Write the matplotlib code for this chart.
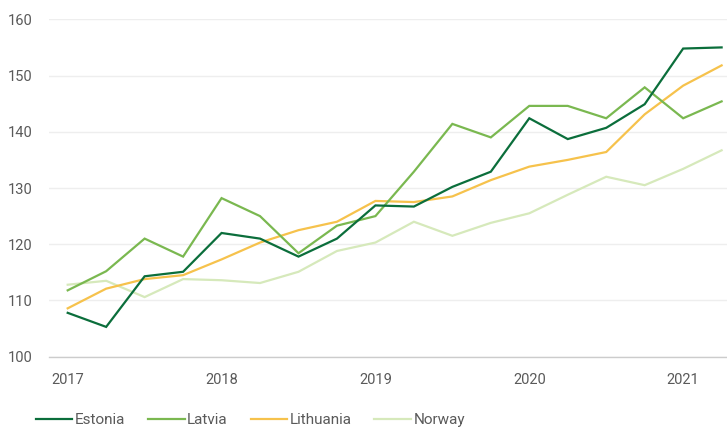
import matplotlib
matplotlib.use("Agg")
import matplotlib.pyplot as plt

quarters = list(range(18))
year_ticks = [0, 4, 8, 12, 16]
year_labels = ["2017", "2018", "2019", "2020", "2021"]

estonia = [107.8, 105.3, 114.3, 115.1, 122.0, 121.0, 117.8, 121.0, 126.9, 126.7,
           130.2, 132.9, 142.4, 138.7, 140.7, 144.9, 154.8, 155.0]
latvia = [111.8, 115.2, 121.0, 117.8, 128.2, 125.0, 118.4, 123.3, 125.0, 132.9,
          141.4, 139.0, 144.6, 144.6, 142.4, 147.9, 142.4, 145.4]
lithuania = [108.6, 112.1, 113.8, 114.5, 117.3, 120.3, 122.5, 124.0, 127.7, 127.5,
             128.5, 131.4, 133.8, 135.0, 136.4, 143.1, 148.2, 151.8]
norway = [112.8, 113.5, 110.6, 113.8, 113.6, 113.1, 115.1, 118.8, 120.3, 124.0,
          121.5, 123.8, 125.5, 128.8, 132.0, 130.5, 133.4, 136.7]

series = [("Estonia", estonia, "#0b6e3b"),
          ("Latvia", latvia, "#7ab850"),
          ("Lithuania", lithuania, "#f6c24c"),
          ("Norway", norway, "#d6e9bb")]

plt.rcParams['font.family'] = ['Roboto', 'DejaVu Sans']
text_color = "#5a5a5a"

fig = plt.figure(figsize=(7.27, 4.28), dpi=100)
ax = fig.add_axes([49/727, 1 - 356.7/428, 1 - 49/727, (356.7 - 19.3)/428])

order = [3, 2, 1, 0]
handles = {}
for i in order:
    name, vals, col = series[i]
    ln, = ax.plot(quarters, vals, color=col, lw=1.6, label=name, solid_joinstyle='miter')
    handles[name] = ln

ax.set_xlim(-0.486, 17.14)
ax.set_ylim(100, 160)
ax.set_yticks([100, 110, 120, 130, 140, 150, 160])
ax.set_xticks(year_ticks)
ax.set_xticklabels(year_labels)
ax.grid(axis='y', color='#eeeeee', lw=1)
ax.set_axisbelow(True)
for s in ['top', 'right', 'left']:
    ax.spines[s].set_visible(False)
ax.spines['bottom'].set_color('#cccccc')
ax.spines['bottom'].set_linewidth(1)
ax.tick_params(axis='both', length=0, labelsize=10.5, colors=text_color)
ax.tick_params(axis='y', pad=12)
ax.tick_params(axis='x', pad=12)

names = [s[0] for s in series]
leg = fig.legend([handles[n] for n in names], names, loc='lower left',
                 bbox_to_anchor=(22/727, -0.030), ncol=4, frameon=False,
                 fontsize=11, handlelength=2.4, handletextpad=0.15,
                 columnspacing=1.5, labelcolor=text_color)

fig.savefig("out.png", dpi=100)
